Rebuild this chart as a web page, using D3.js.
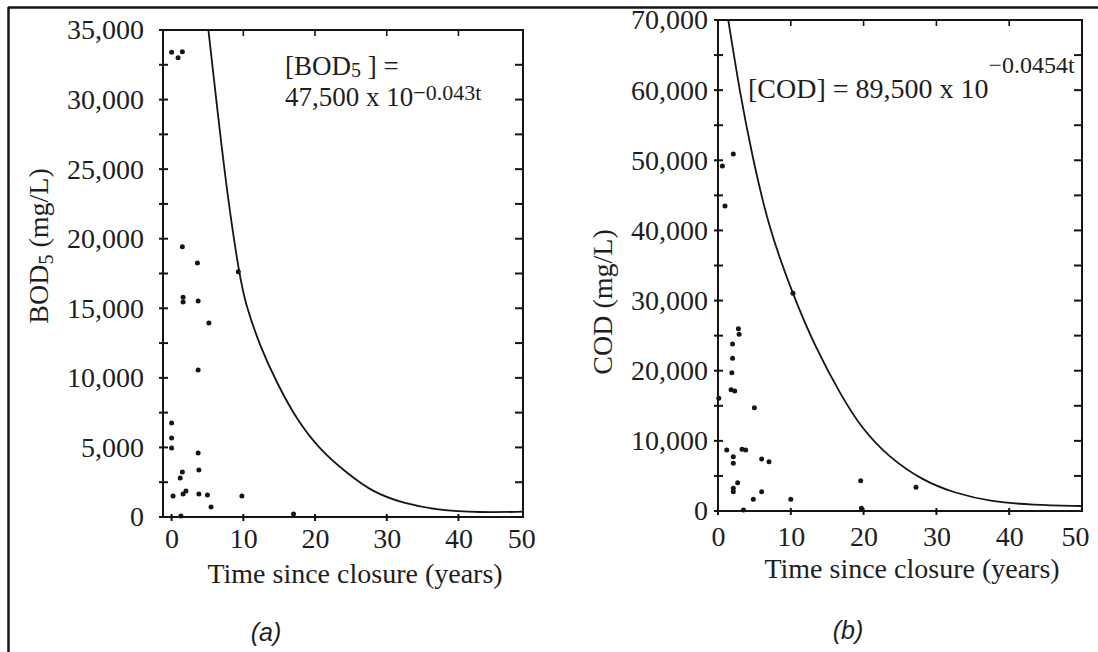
<!DOCTYPE html>
<html>
<head>
<meta charset="utf-8">
<script src="https://cdn.jsdelivr.net/npm/d3@7"></script>
<style>
  body { margin: 0; background: #fff; }
  svg { display: block; }
  text { font-family: "Liberation Serif", "Times New Roman", serif; fill: #1e1e1e; }
  .caption { font-family: "Liberation Sans", Arial, sans-serif; font-style: italic; }
</style>
</head>
<body>
<svg id="chart" width="1098" height="652"></svg>
<script>
// Years since landfill closure (shared x ticks)
const yearTicks = [0, 10, 20, 30, 40, 50];
const bodTicks = [0, 5000, 10000, 15000, 20000, 25000, 30000, 35000];
const codTicks = [0, 10000, 20000, 30000, 40000, 50000, 60000, 70000];

// (a) BOD5 leachate samples
const bodTime  = [0, 0.9, 1.5, 1.5, 3.6, 1.6, 1.6, 3.7, 5.2, 9.3, 3.7, 0, 0, 0, 3.7, 3.8, 1.5, 1.2, 0.2, 1.6, 2.0, 3.8, 5.0, 5.5, 9.8, 1.3, 17];
const bodValue = [33400, 33000, 33440, 19420, 18260, 15800, 15450, 15530, 13950, 17620, 10570, 6760, 5680, 4960, 4600, 3380, 3240, 2800, 1510, 1650, 1870, 1650, 1580, 720, 1510, 70, 220];

// (a) fitted decay curve, sampled along the drawn line
const bodFitTime  = [5.13, 6.53, 7.92, 9.41, 10.25, 12.34, 14.67, 17.46, 20.71, 24.44, 28.15, 32.33, 36.99, 43.0, 49.0];
const bodFitValue = [35000, 28550, 22580, 17550, 15390, 12250, 9640, 6980, 4820, 3160, 1750, 985, 500, 320, 380];

// (b) COD leachate samples
const codTime  = [2.1, 0.6, 0.96, 10.3, 2.9, 2.8, 2.0, 2.0, 1.9, 1.8, 2.3, 0.1, 5.0, 1.2, 3.3, 3.8, 2.1, 2.1, 6.0, 7.0, 2.7, 2.1, 2.1, 6.0, 4.85, 10.0, 3.5, 19.6, 27.2, 19.7];
const codValue = [50900, 49200, 43480, 31040, 25200, 26000, 23800, 21770, 19720, 17300, 17100, 16070, 14730, 8700, 8790, 8700, 7740, 6800, 7410, 7030, 4040, 3230, 2750, 2750, 1660, 1660, 140, 4320, 3380, 380];

// (b) fitted decay curve, sampled along the drawn line
const codFitTime  = [1.41, 3.02, 4.63, 6.91, 10.21, 13.32, 16.99, 19.74, 23.39, 27.98, 32.55, 37.6, 43.1, 50];
const codFitValue = [70000, 59550, 51000, 40530, 31040, 23430, 16300, 11790, 7740, 4420, 2520, 1330, 855, 710];

const svg = d3.select("#chart");
const ink = "#151515";
const FS = 28;

// outer figure frame (top and left edges)
svg.append("line").attr("x1", 8).attr("x2", 1098).attr("y1", 7.5).attr("y2", 7.5)
  .attr("stroke", ink).attr("stroke-width", 2.5);
svg.append("line").attr("x1", 8.5).attr("x2", 8.5).attr("y1", 7).attr("y2", 652)
  .attr("stroke", ink).attr("stroke-width", 2.5);

function panel(cfg) {
  const x = d3.scaleLinear().domain(cfg.xDomain).range([cfg.left, cfg.right]);
  const y = d3.scaleLinear().domain([0, cfg.yMax]).range([cfg.bottom, cfg.top]);
  const g = svg.append("g");
  const clipId = "clip-" + cfg.id;
  g.append("clipPath").attr("id", clipId).append("rect")
    .attr("x", cfg.left).attr("y", cfg.top)
    .attr("width", cfg.right - cfg.left).attr("height", cfg.bottom - cfg.top);

  // plot box
  g.append("rect").attr("x", cfg.left).attr("y", cfg.top)
    .attr("width", cfg.right - cfg.left).attr("height", cfg.bottom - cfg.top)
    .attr("fill", "none").attr("stroke", ink).attr("stroke-width", 2);

  // y tick marks: crossing on the left axis, inward on the right side
  const yMinor = d3.range(0, cfg.yMax + 1, cfg.yMinor);
  g.selectAll(".ytl").data(yMinor).join("line")
    .attr("x1", cfg.left - 4).attr("x2", cfg.left + 5)
    .attr("y1", d => y(d)).attr("y2", d => y(d))
    .attr("stroke", ink).attr("stroke-width", 2);
  g.selectAll(".ytr").data(yMinor.slice(1, -1)).join("line")
    .attr("x1", cfg.right - 8).attr("x2", cfg.right)
    .attr("y1", d => y(d)).attr("y2", d => y(d))
    .attr("stroke", ink).attr("stroke-width", 2);

  // x tick marks on bottom and top edges
  const inX = yearTicks.filter(t => x(t) < cfg.right - 4);
  g.selectAll(".xtb").data(inX).join("line")
    .attr("x1", d => x(d)).attr("x2", d => x(d))
    .attr("y1", cfg.bottom - 3).attr("y2", cfg.bottom + 4)
    .attr("stroke", ink).attr("stroke-width", 2);
  g.selectAll(".xtt").data(inX.filter(t => t > 0)).join("line")
    .attr("x1", d => x(d)).attr("x2", d => x(d))
    .attr("y1", cfg.top).attr("y2", cfg.top + 6)
    .attr("stroke", ink).attr("stroke-width", 1.6);

  // tick labels via d3 axes (marks drawn above)
  const yAxis = d3.axisLeft(y).tickValues(cfg.yTicks).tickFormat(d3.format(","))
    .tickSize(0).tickPadding(cfg.yPad);
  const ya = g.append("g").attr("transform", `translate(${cfg.left},0)`).call(yAxis);
  ya.select(".domain").remove();
  ya.selectAll("text").attr("font-size", FS).attr("fill", null);

  const xAxis = d3.axisBottom(x).tickValues(yearTicks).tickFormat(d3.format("d"))
    .tickSize(0).tickPadding(cfg.xPad);
  const xa = g.append("g").attr("transform", `translate(0,${cfg.bottom})`).call(xAxis);
  xa.select(".domain").remove();
  xa.selectAll("text").attr("font-size", FS).attr("fill", null)
    .attr("dx", d => d === 50 ? cfg.lastShift : 0);
  g.selectAll("g[font-family]").attr("font-family", null).attr("font-size", null);

  // fitted curve
  const line = d3.line().x(d => x(d[0])).y(d => y(d[1])).curve(d3.curveBasis);
  g.append("path").datum(d3.zip(cfg.fitT, cfg.fitV))
    .attr("clip-path", `url(#${clipId})`)
    .attr("d", line).attr("fill", "none").attr("stroke", ink).attr("stroke-width", 1.8);

  // samples
  g.selectAll(".pt").data(d3.zip(cfg.t, cfg.v)).join("circle")
    .attr("cx", d => x(d[0])).attr("cy", d => y(d[1])).attr("r", 2.5).attr("fill", ink);

  // x axis title
  g.append("text").attr("x", (cfg.left + cfg.right) / 2 + cfg.titleShift).attr("y", cfg.titleY)
    .attr("text-anchor", "middle").attr("font-size", FS).text("Time since closure (years)");

  return { x, y, g };
}

panel({
  id: "a", left: 163, right: 523, top: 30, bottom: 517,
  xDomain: [-1.2, 49], yMax: 35000, yMinor: 2500, yTicks: bodTicks,
  yPad: 19, xPad: 11, lastShift: -9, titleY: 583, titleShift: 12,
  t: bodTime, v: bodValue, fitT: bodFitTime, fitV: bodFitValue
});
panel({
  id: "b", left: 718, right: 1082, top: 20, bottom: 511,
  xDomain: [0, 50], yMax: 70000, yMinor: 5000, yTicks: codTicks,
  yPad: 10, xPad: 15, lastShift: -7, titleY: 578, titleShift: 12,
  t: codTime, v: codValue, fitT: codFitTime, fitV: codFitValue
});

// y axis titles
const yt = svg.append("text").attr("transform", "translate(48,246) rotate(-90)")
  .attr("text-anchor", "middle").attr("font-size", FS);
yt.append("tspan").text("BOD");
yt.append("tspan").attr("font-size", 20).attr("dy", 5).text("5");
yt.append("tspan").attr("dy", -5).text(" (mg/L)");

svg.append("text").attr("transform", "translate(612,302) rotate(-90)")
  .attr("text-anchor", "middle").attr("font-size", FS).text("COD (mg/L)");

// fitted equations
const e1 = svg.append("text").attr("x", 285).attr("y", 75).attr("font-size", 27);
e1.append("tspan").text("[BOD");
e1.append("tspan").attr("font-size", 20).attr("dy", 2).text("5");
e1.append("tspan").attr("dy", -2).text(" ] =");
const e2 = svg.append("text").attr("x", 285).attr("y", 106).attr("font-size", 27);
e2.append("tspan").text("47,500 x 10");
e2.append("tspan").attr("font-size", 22).attr("dy", -6).text("\u22120.043t");

const e3 = svg.append("text").attr("x", 748).attr("y", 98).attr("font-size", FS);
e3.append("tspan").text("[COD] = 89,500 x 10");
e3.append("tspan").attr("font-size", 24).attr("dy", -25).text("\u22120.0454t");

// panel captions
svg.append("text").attr("class", "caption").attr("x", 266).attr("y", 641)
  .attr("text-anchor", "middle").attr("font-size", 25).text("(a)");
svg.append("text").attr("class", "caption").attr("x", 848).attr("y", 639)
  .attr("text-anchor", "middle").attr("font-size", 25).text("(b)");
</script>
</body>
</html>
